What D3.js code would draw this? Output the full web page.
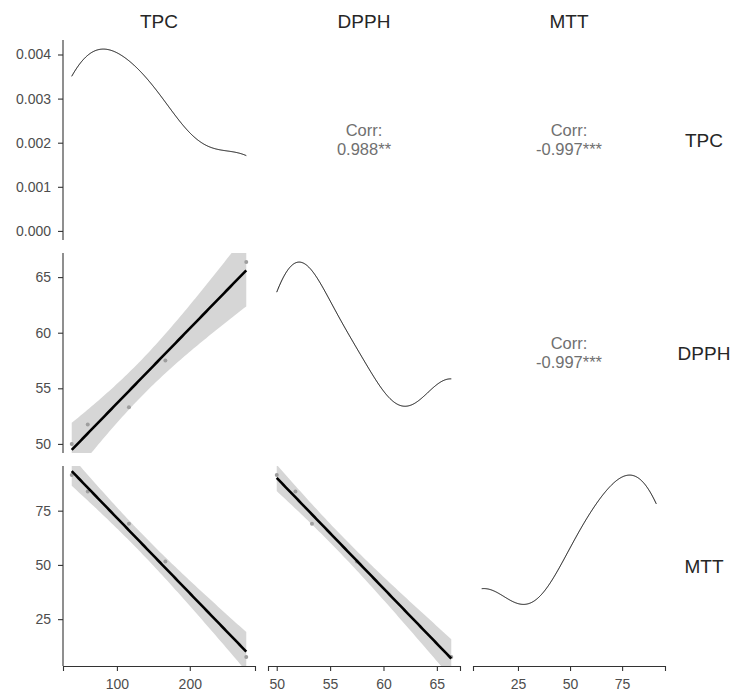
<!DOCTYPE html>
<html lang="en">

<head>
    <meta charset="utf-8">
    <title>TPC / DPPH / MTT pairs</title>
    <style media="screen" type="text/css">
        body {
            margin: 0;
            background: #fff;
        }
        text {
            font-family: "Liberation Sans", Arial, sans-serif;
        }
    </style>
</head>

<body>
    <svg id="chart" width="733" height="697"></svg>
    <script src="https://cdn.jsdelivr.net/npm/d3@7"></script>
    <script>
        // values
        var varNames = ["TPC", "DPPH", "MTT"];
        var tpc = [38.0, 60.0, 116.5, 166.5, 277.5];
        var dpph = [50.0, 51.75, 53.3, 57.5, 66.35];
        var mtt = [91.4, 83.8, 69.0, 51.6, 7.6];
        var tickVals = [[100, 200], [50, 55, 60, 65], [25, 50, 75]];
        var densTicks = [0, 0.001, 0.002, 0.003, 0.004];
        var corrLabels = [["", "0.988**", "-0.997***"], ["", "", "-0.997***"]];

        var columns = [tpc, dpph, mtt];

        // note: "top" is taken by window.top, so use padTop
        var padLeft = 63, padTop = 40, pw = 192, ph = 200, gap = 13;
        var tCrit = 3.182446; // qt(0.975, df = 3)

        var svg = d3.select("#chart");
        svg.append("rect").attr("width", 733).attr("height", 697).attr("fill", "#fff");

        function expanded(vals) {
            var e = d3.extent(vals);
            var r = e[1] - e[0];
            return [e[0] - 0.05 * r, e[1] + 0.05 * r];
        }

        // gaussian kde with bw.nrd0, evaluated over the data range
        function kde(values) {
            var n = values.length;
            var sorted = values.slice().sort(d3.ascending);
            var iqr = d3.quantileSorted(sorted, 0.75) - d3.quantileSorted(sorted, 0.25);
            var lo = Math.min(d3.deviation(values), iqr / 1.34);
            var bw = 0.9 * lo * Math.pow(n, -0.2);
            var ext = d3.extent(values);
            return d3.range(512).map(function(k) {
                var x = ext[0] + (ext[1] - ext[0]) * k / 511;
                var s = d3.sum(values, function(v) {
                    var z = (x - v) / bw;
                    return Math.exp(-0.5 * z * z);
                });
                return [x, s / (n * bw * Math.sqrt(2 * Math.PI))];
            });
        }

        // linear fit with 95% confidence band
        function lmFit(xs, ys) {
            var n = xs.length;
            var mx = d3.mean(xs), my = d3.mean(ys);
            var sxx = d3.sum(xs, function(x) { return (x - mx) * (x - mx); });
            var sxy = d3.sum(xs, function(x, i) { return (x - mx) * (ys[i] - my); });
            var b = sxy / sxx, a = my - b * mx;
            var rss = d3.sum(xs, function(x, i) { var r = ys[i] - (a + b * x); return r * r; });
            var s = Math.sqrt(rss / (n - 2));
            var ext = d3.extent(xs);
            return d3.range(80).map(function(k) {
                var x = ext[0] + (ext[1] - ext[0]) * k / 79;
                var f = a + b * x;
                var se = s * Math.sqrt(1 / n + (x - mx) * (x - mx) / sxx);
                return { x: x, y: f, lo: f - tCrit * se, hi: f + tCrit * se };
            });
        }

        var xScales = columns.map(function(vals, j) {
            var x0 = padLeft + j * (pw + gap);
            return d3.scaleLinear().domain(expanded(vals)).range([x0, x0 + pw]);
        });
        var yScales = columns.map(function(vals, i) {
            var y0 = padTop + i * (ph + gap);
            return d3.scaleLinear().domain(expanded(vals)).range([y0 + ph, y0]);
        });

        var densScale0;

        for (var i = 0; i < 3; i++) {
            for (var j = 0; j < 3; j++) {
                var x0 = padLeft + j * (pw + gap), y0 = padTop + i * (ph + gap);
                var cid = "clip" + i + j;
                svg.append("clipPath").attr("id", cid)
                    .append("rect").attr("x", x0).attr("y", y0).attr("width", pw).attr("height", ph);
                var g = svg.append("g").attr("clip-path", "url(#" + cid + ")");
                var xs = xScales[j];

                if (i == j) {
                    var dens = kde(columns[j]);
                    var m = d3.max(dens, function(d) { return d[1]; });
                    var ys = d3.scaleLinear().domain([-0.05 * m, 1.05 * m]).range([y0 + ph, y0]);
                    if (i == 0) densScale0 = ys;
                    g.append("path")
                        .datum(dens)
                        .attr("fill", "none")
                        .attr("stroke", "#000")
                        .attr("stroke-width", 1)
                        .attr("d", d3.line()
                            .x(function(d) { return xs(d[0]); })
                            .y(function(d) { return ys(d[1]); }));
                } else if (i > j) {
                    var yS = yScales[i];
                    var fit = lmFit(columns[j], columns[i]);
                    g.append("path")
                        .datum(fit)
                        .attr("fill", "#d6d6d6")
                        .attr("d", d3.area()
                            .x(function(d) { return xs(d.x); })
                            .y0(function(d) { return yS(d.lo); })
                            .y1(function(d) { return yS(d.hi); }));
                    g.selectAll("circle")
                        .data(columns[j])
                        .enter()
                        .append("circle")
                        .attr("cx", function(d) { return xs(d); })
                        .attr("cy", function(d, k) { return yS(columns[i][k]); })
                        .attr("r", 2)
                        .attr("fill", "#9e9e9e");
                    g.append("path")
                        .datum(fit)
                        .attr("fill", "none")
                        .attr("stroke", "#000")
                        .attr("stroke-width", 2.6)
                        .attr("d", d3.line()
                            .x(function(d) { return xs(d.x); })
                            .y(function(d) { return yS(d.y); }));
                } else {
                    var cx = x0 + pw / 2, cy = y0 + ph / 2;
                    svg.append("text")
                        .attr("x", cx).attr("y", cy - 4)
                        .attr("text-anchor", "middle")
                        .attr("font-size", "16.5px")
                        .attr("fill", "#707070")
                        .text("Corr:");
                    svg.append("text")
                        .attr("x", cx).attr("y", cy + 15)
                        .attr("text-anchor", "middle")
                        .attr("font-size", "16.5px")
                        .attr("fill", "#707070")
                        .text(corrLabels[i][j]);
                }
            }
        }

        function styleAxis(sel) {
            sel.selectAll("path.domain").attr("stroke", "#333").attr("stroke-width", 1.1);
            sel.selectAll(".tick line").attr("stroke", "#333").attr("stroke-width", 1.1);
            sel.selectAll(".tick text")
                .attr("fill", "#4d4d4d")
                .attr("font-size", "14px")
                .attr("font-family", "Liberation Sans, Arial, sans-serif");
        }

        // left axes
        for (var r = 0; r < 3; r++) {
            var ax = r == 0
                ? d3.axisLeft(densScale0).tickValues(densTicks).tickFormat(d3.format(".3f"))
                : d3.axisLeft(yScales[r]).tickValues(tickVals[r]);
            ax.tickSizeOuter(0).tickSize(5).tickPadding(7);
            var ga = svg.append("g").attr("transform", "translate(" + padLeft + ",0)").call(ax);
            var y0r = padTop + r * (ph + gap);
            ga.select("path.domain").attr("d", "M0," + y0r + "V" + (y0r + ph));
            styleAxis(ga);
        }

        // bottom axes
        var bottomY = padTop + 2 * (ph + gap) + ph;
        for (var c = 0; c < 3; c++) {
            var bx = d3.axisBottom(xScales[c]).tickValues(tickVals[c])
                .tickSizeOuter(0).tickSize(5).tickPadding(8);
            var gb = svg.append("g").attr("transform", "translate(0," + bottomY + ")").call(bx);
            styleAxis(gb);
        }

        // strip labels
        svg.selectAll("text.colLabel")
            .data(varNames)
            .enter()
            .append("text")
            .attr("class", "colLabel")
            .attr("x", function(d, k) { return padLeft + k * (pw + gap) + pw / 2; })
            .attr("y", 28)
            .attr("text-anchor", "middle")
            .attr("font-size", "19px")
            .attr("fill", "#262626")
            .text(function(d) { return d; });

        svg.selectAll("text.rowLabel")
            .data(varNames)
            .enter()
            .append("text")
            .attr("class", "rowLabel")
            .attr("x", 704)
            .attr("y", function(d, k) { return padTop + k * (ph + gap) + ph / 2 + 7; })
            .attr("text-anchor", "middle")
            .attr("font-size", "19px")
            .attr("fill", "#262626")
            .text(function(d) { return d; });
    </script>
</body>

</html>
